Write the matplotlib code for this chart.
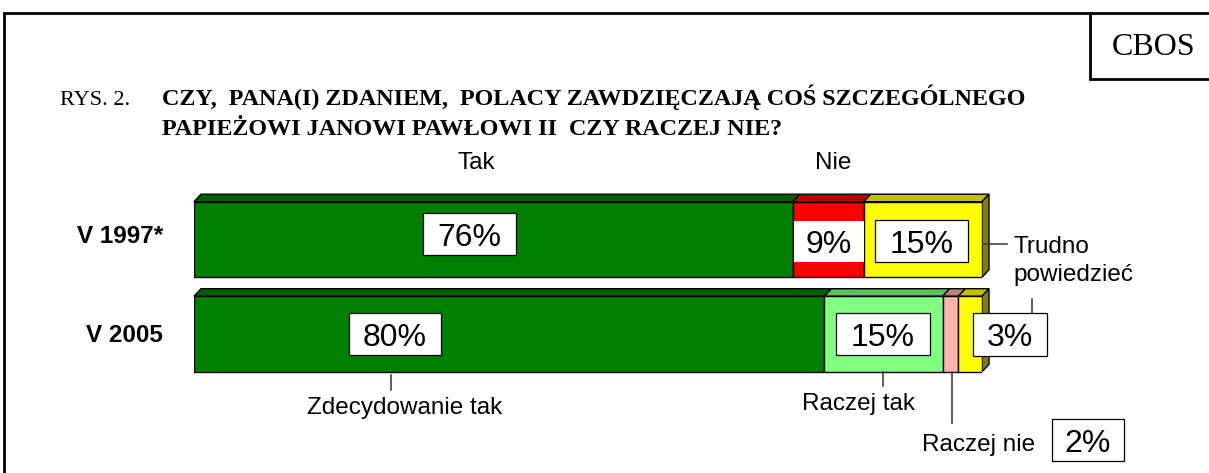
import matplotlib
matplotlib.use('Agg')
import matplotlib.pyplot as plt
from matplotlib.patches import Rectangle, Polygon

# ---------------- data ----------------
categories = ['V 1997*', 'V 2005']
values_1997 = [76, 9, 15]
values_2005 = [80, 15, 2, 3]
names_1997 = ['Tak', 'Nie', 'Trudno powiedzieć']
names_2005 = ['Zdecydowanie tak', 'Raczej tak', 'Raczej nie', 'Trudno powiedzieć']
title_prefix = 'RYS. 2.'
title_lines = ['CZY,  PANA(I) ZDANIEM,  POLACY ZAWDZIĘCZAJĄ COŚ SZCZEGÓLNEGO',
               'PAPIEŻOWI JANOWI PAWŁOWI II  CZY RACZEJ NIE?']

# ---------------- style ----------------
front_1997 = ['#008000', '#FF0000', '#FFFF00']
top_1997 = ['#006000', '#C00000', '#C0C000']
front_2005 = ['#008000', '#80FF80', '#FFB3B3', '#FFFF00']
top_2005 = ['#006000', '#60C060', '#C08080', '#C0C000']
side_color = '#808000'
SANS = 'Liberation Sans'
SERIF = 'Liberation Serif'

W, H = 1209, 473
fig = plt.figure(figsize=(W / 100, H / 100), dpi=100)
fig.patch.set_facecolor('white')

# bar axes: x 0..100 % spans px 194..982, rows centred at px 239.5 and 334
bx0, bx1 = 194, 982
by_top, by_bot = 192.25, 381.25
ax = fig.add_axes([bx0 / W, 1 - by_bot / H, (bx1 - bx0) / W, (by_bot - by_top) / H])
ax.set_xlim(0, 100)
ax.set_ylim(1.5, -0.5)
ax.axis('off')

bar_h = 0.8
px_x = (bx1 - bx0) / 100.0
px_y = (by_bot - by_top) / 2.0
dx = 7 / px_x
dy = 7.5 / px_y

rows = [(values_1997, front_1997, top_1997), (values_2005, front_2005, top_2005)]
for i, (vals, fcols, tcols) in enumerate(rows):
    left = 0
    ytop = i - bar_h / 2
    ybot = i + bar_h / 2
    for v, fc, tc in zip(vals, fcols, tcols):
        ax.barh(i, v, left=left, height=bar_h, color=fc, edgecolor='black',
                linewidth=1.0, zorder=3)
        ax.add_patch(Polygon([(left, ytop), (left + dx, ytop - dy),
                              (left + v + dx, ytop - dy), (left + v, ytop)],
                             closed=True, facecolor=tc, edgecolor='black',
                             linewidth=1.0, zorder=2, clip_on=False))
        left += v
    ax.add_patch(Polygon([(left, ytop), (left + dx, ytop - dy),
                          (left + dx, ybot - dy), (left, ybot)],
                         closed=True, facecolor=side_color, edgecolor='black',
                         linewidth=1.0, zorder=2, clip_on=False))

# ---------------- overlay in pixel coordinates ----------------
ov = fig.add_axes([0, 0, 1, 1])
ov.set_xlim(0, W)
ov.set_ylim(H, 0)
ov.axis('off')
ov.set_zorder(5)
ov.patch.set_visible(False)

# frame
ov.plot([4, 4, W], [H, 13, 13], color='black', lw=2, solid_capstyle='butt', solid_joinstyle='miter')
ov.plot([1090, 1090, W], [13, 79, 79], color='black', lw=2, solid_capstyle='butt', solid_joinstyle='miter')
ov.text(1154, 55, 'CBOS', fontsize=23, family=SERIF, ha='center', va='baseline')

# title
ov.text(60, 105, title_prefix, fontsize=16, family=SERIF, ha='left', va='baseline')
ov.text(162, 105, title_lines[0], fontsize=17.35, family=SERIF, weight='bold', ha='left', va='baseline')
ov.text(162, 135, title_lines[1], fontsize=17.35, family=SERIF, weight='bold', ha='left', va='baseline')

# headers
ov.text(476, 169, names_1997[0], fontsize=17.5, family=SANS, ha='center', va='baseline')
ov.text(833, 169, names_1997[1], fontsize=17.5, family=SANS, ha='center', va='baseline')

# category labels
ov.text(163, 243, categories[0], fontsize=17.5, family=SANS, weight='bold', ha='right', va='baseline')
ov.text(163, 342, categories[1], fontsize=17.5, family=SANS, weight='bold', ha='right', va='baseline')

# value boxes (pixel boxes)
def vbox(x0, y0, x1, y1, txt, edge=True):
    ov.add_patch(Rectangle((x0, y0), x1 - x0, y1 - y0, facecolor='white',
                           edgecolor='black' if edge else 'none', linewidth=0.9, zorder=6))
    ov.text((x0 + x1) / 2, (y0 + y1) / 2 + 11.5, txt, fontsize=23, family=SANS,
            ha='center', va='baseline', zorder=7)

vbox(423, 213, 516, 255, f'{values_1997[0]}%')
vbox(794, 221, 864, 262, f'{values_1997[1]}%', edge=False)
vbox(875, 220, 967.5, 262, f'{values_1997[2]}%')
vbox(349, 313, 441, 355, f'{values_2005[0]}%')
vbox(836, 313, 930, 355, f'{values_2005[1]}%')
vbox(973, 313, 1047, 356, f'{values_2005[3]}%')
vbox(1052, 419, 1124, 461, f'{values_2005[2]}%')

# leader lines
lc = '#444444'
ov.plot([983, 1007], [244, 244], color=lc, lw=1.2, zorder=4)
ov.plot([1032, 1032], [299, 313], color=lc, lw=1.2, zorder=4)
ov.plot([391, 391], [375, 390], color=lc, lw=1.2)
ov.plot([883, 883], [372, 386], color=lc, lw=1.2)
ov.plot([952, 952], [372, 423], color=lc, lw=1.2)

# annotation texts
ov.text(1013, 253, 'Trudno', fontsize=17.5, family=SANS, ha='left', va='baseline')
ov.text(1013, 281, 'powiedzieć', fontsize=17.5, family=SANS, ha='left', va='baseline')
ov.text(405, 414, names_2005[0], fontsize=17.5, family=SANS, ha='center', va='baseline')
ov.text(859, 410, names_2005[1], fontsize=17.5, family=SANS, ha='center', va='baseline')
ov.text(979, 451, names_2005[2], fontsize=17.5, family=SANS, ha='center', va='baseline')

fig.savefig('out.png', dpi=100, facecolor='white')
